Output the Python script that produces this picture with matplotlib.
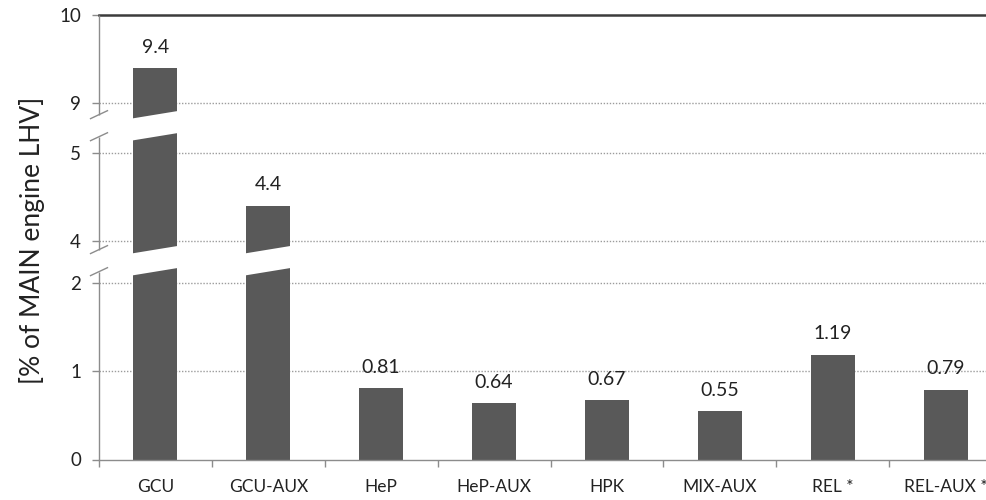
import numpy as np
import matplotlib
matplotlib.use("Agg")
import matplotlib.pyplot as plt
from matplotlib.patches import Polygon

plt.rcParams["font.family"] = ["Lato", "DejaVu Sans"]

# ---- data -------------------------------------------------------------
categories = ["GCU", "GCU-AUX", "HeP", "HeP-AUX", "HPK", "MIX-AUX", "REL *", "REL-AUX *"]
values = [9.4, 4.4, 0.81, 0.64, 0.67, 0.55, 1.19, 0.79]
value_labels = ["9.4", "4.4", "0.81", "0.64", "0.67", "0.55", "1.19", "0.79"]
y_ticks = [0, 1, 2, 4, 5, 9, 10]
grid_ticks = [1, 2, 4, 5, 9]
y_segments = [(0.0, 2.13), (3.9, 5.18), (8.87, 10.0)]
y_label = "[% of MAIN engine LHV]"

# ---- broken y scale: visible segments joined by short fixed gaps ------
GAP = 0.25
data_knots, virt_knots = [], []
pos = 0.0
for k, (lo, hi) in enumerate(y_segments):
    if k > 0:
        pos += GAP
    data_knots += [lo, hi]
    virt_knots += [pos, pos + (hi - lo)]
    pos += hi - lo
data_knots = [-100.0] + data_knots + [110.0]
virt_knots = [-100.0] + virt_knots + [virt_knots[-1] + 100.0]
data_knots = np.array(data_knots)
virt_knots = np.array(virt_knots)


def forward(v):
    return np.interp(v, data_knots, virt_knots)


def inverse(u):
    return np.interp(u, virt_knots, data_knots)


BAR_COLOR = "#595959"
AXIS_COLOR = "#8c8c8c"
TEXT_COLOR = "#222222"
BAR_W = 0.39

fig = plt.figure(figsize=(9.86, 5.0), dpi=100)
ax = fig.add_axes([99 / 986, 40.5 / 500, 903 / 986, 444.5 / 500])
ax.set_yscale("function", functions=(forward, inverse))
ax.set_xlim(-0.5, len(categories) - 0.5)
ax.set_ylim(0, 10)

x = np.arange(len(categories))
ax.bar(x, values, width=BAR_W, color=BAR_COLOR, zorder=2)

# dotted horizontal gridlines
for t in grid_ticks:
    ax.axhline(t, color="#9c9c9c", lw=1.0, ls=(0, (1, 1.2)), zorder=1)

# white slanted cut-outs where bars pass through the breaks
SLANT = 0.045
for i, v in enumerate(values):
    for k in range(len(y_segments) - 1):
        lower_top = y_segments[k][1]
        upper_bot = y_segments[k + 1][0]
        if v <= lower_top:
            continue
        x0, x1 = i - BAR_W / 2 - 0.02, i + BAR_W / 2 + 0.02
        u_lo, u_hi = forward(lower_top), forward(upper_bot)
        pts = [
            (x0, inverse(u_lo - SLANT)),
            (x1, inverse(u_lo + SLANT)),
            (x1, inverse(u_hi + SLANT)),
            (x0, inverse(u_hi - SLANT)),
        ]
        ax.add_patch(Polygon(pts, closed=True, facecolor="white",
                             edgecolor="none", zorder=3))

# value labels above the bars
for i, (v, lbl) in enumerate(zip(values, value_labels)):
    ax.annotate(lbl, (i, v), xytext=(0, 15), textcoords="offset points",
                ha="center", va="center", fontsize=14, color=TEXT_COLOR,
                zorder=4)

# spines
ax.spines["right"].set_visible(False)
ax.spines["left"].set_visible(False)
ax.spines["top"].set_color("#3c3c3c")
ax.spines["top"].set_linewidth(1.8)
ax.spines["bottom"].set_color(AXIS_COLOR)
ax.spines["bottom"].set_linewidth(1.0)

# broken left axis line with slash marks
x_left = -0.5
for lo, hi in y_segments:
    ax.plot([x_left, x_left], [lo, hi], color=AXIS_COLOR, lw=1.0,
            clip_on=False, zorder=5, solid_capstyle="butt")
for k in range(len(y_segments) - 1):
    for edge in (y_segments[k][1], y_segments[k + 1][0]):
        u = forward(edge)
        ax.plot([x_left - 0.075, x_left + 0.075],
                inverse(np.array([u - SLANT, u + SLANT])),
                color=AXIS_COLOR, lw=1.0, clip_on=False, zorder=5)

# y ticks
ax.set_yticks(y_ticks)
ax.set_yticklabels([str(t) for t in y_ticks])
ax.yaxis.set_minor_locator(matplotlib.ticker.NullLocator())
ax.tick_params(axis="y", length=5, width=1.0, color=AXIS_COLOR, pad=8,
               labelsize=13.5, labelcolor=TEXT_COLOR)

# x ticks: marks on category boundaries, labels at centres
ax.set_xticks(np.arange(-0.5, len(categories), 1.0))
ax.set_xticklabels([])
ax.set_xticks(x, minor=True)
ax.set_xticklabels(categories, minor=True)
ax.tick_params(axis="x", which="major", length=5, width=1.0, color=AXIS_COLOR)
ax.tick_params(axis="x", which="minor", length=0, pad=14,
               labelsize=12.5, labelcolor=TEXT_COLOR)

fig.text(32 / 986, 0.52, y_label, rotation=90, ha="center", va="center",
         fontsize=19, color=TEXT_COLOR)

fig.savefig("out.png", dpi=100, facecolor="white")
